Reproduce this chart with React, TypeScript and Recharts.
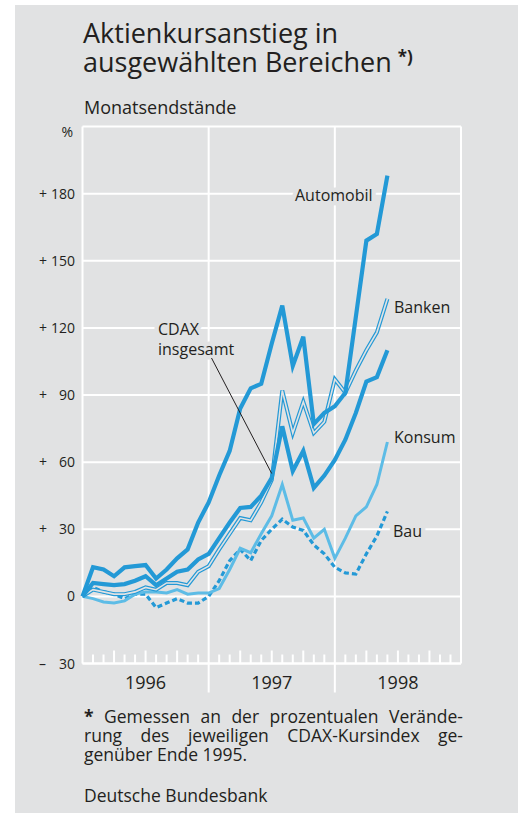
import React from "react";
import { CartesianGrid, Line, LineChart, ReferenceLine, XAxis, YAxis } from "recharts";

// Monatsendstände, Veränderung gegenüber Ende 1995 in %
const months = [
  "Dez 95",
  "Jan 96", "Feb 96", "Mär 96", "Apr 96", "Mai 96", "Jun 96",
  "Jul 96", "Aug 96", "Sep 96", "Okt 96", "Nov 96", "Dez 96",
  "Jan 97", "Feb 97", "Mär 97", "Apr 97", "Mai 97", "Jun 97",
  "Jul 97", "Aug 97", "Sep 97", "Okt 97", "Nov 97", "Dez 97",
  "Jan 98", "Feb 98", "Mär 98", "Apr 98", "Mai 98",
];
const automobil = [0, 13, 12, 9, 13, 13.5, 14, 8, 12, 17, 21, 33, 42, 54, 65, 84, 93, 95, 113, 130, 103, 116, 77, 82, 85, 91, 125, 159, 162, 188];
const banken = [0, 3, 2, 1, 1, 2, 4, 3, 6, 6, 5, 11, 13.5, 21, 28, 35, 34, 42, 52, 92, 73, 87, 73, 78, 97, 91, 101, 110, 118, 133];
const cdax = [0, 6, 5.5, 5, 5.5, 7, 9, 5, 8, 11, 12, 16.5, 19, 26, 33, 39.5, 40, 45, 53, 76, 56, 65, 48.5, 54, 61, 70, 82, 96, 98, 110];
const konsum = [0, -1, -2.5, -3, -2, 1, 2, 2, 1.5, 3, 1, 1.5, 1.5, 3.5, 12, 21.5, 19.5, 28, 36, 50, 34, 35, 26, 30, 17, 26, 36, 40, 50, 69];
const bau = [0, 4, 2, 1, -1, 1, 1, -5, -3, -1, -3, -3, 0, 7, 16, 21, 16, 25, 30, 34.5, 31, 29.5, 23, 19, 13, 10.5, 10, 19, 27, 38];

const yTicks = [-30, 0, 30, 60, 90, 120, 150, 180, 210];
const years = ["1996", "1997", "1998"];
const monthTicks = Array.from({ length: 37 }, (_, i) => i);

const BG = "#e1e2e3";
const BLUE = "#2399d6";
const LIGHT = "#5dbce6";
const INK = "#231f20";
const FONT = "'Open Sans', sans-serif";

const rows = months.map((label, i) => ({
  m: i,
  label,
  automobil: automobil[i],
  banken: banken[i],
  cdax: cdax[i],
  konsum: konsum[i],
  bau: bau[i],
}));

function MonthTick(props: any) {
  const { x, y, payload } = props;
  const m = payload.value as number;
  if (m === 0 || m === 36) return null;
  if (m % 12 === 0) {
    return <line x1={x} x2={x} y1={y} y2={y + 29} stroke="#fff" strokeWidth={2} />;
  }
  const h = m % 3 === 0 ? 13 : 9;
  return (
    <g>
      <line x1={x} x2={x} y1={y} y2={y - h} stroke="#fff" strokeWidth={2} />
      {m % 12 === 6 && (
        <text x={x} y={y + 25.5} textAnchor="middle" fontSize={18} fill={INK} fontFamily={FONT}>
          {years[(m - 6) / 12]}
        </text>
      )}
    </g>
  );
}

function PctTick(props: any) {
  const { y, payload } = props;
  const v = payload.value as number;
  const style = { fontSize: 14, fill: INK, fontFamily: FONT };
  if (v === 210) {
    return (
      <text x={73} y={y + 10} textAnchor="end" {...style}>
        %
      </text>
    );
  }
  return (
    <g>
      {v !== 0 && (
        <text x={39} y={y} dy="0.36em" {...style}>
          {v > 0 ? "+" : "–"}
        </text>
      )}
      <text x={75} y={y} dy="0.36em" textAnchor="end" {...style}>
        {Math.abs(v)}
      </text>
    </g>
  );
}

const labelStyle = {
  fontSize: 16,
  fill: INK,
  fontFamily: FONT,
  stroke: BG,
  strokeWidth: 9,
  paintOrder: "stroke" as const,
  strokeLinejoin: "round" as const,
};

export default function App() {
  return (
    <div
      style={{
        position: "absolute",
        left: 0,
        top: 0,
        width: 518,
        height: 813,
        background: "#fff",
        overflow: "hidden",
        fontFamily: FONT,
        color: INK,
      }}
    >
      <div style={{ position: "absolute", left: 15, top: 5, right: 0, bottom: 0, background: BG }} />

      <div style={{ position: "absolute", left: 0, top: 0 }}>
        <LineChart
          width={518}
          height={720}
          data={rows}
          margin={{ top: 126.5, right: 57, bottom: 16.5, left: 22.5 }}
        >
          <CartesianGrid stroke="#fff" strokeWidth={2} vertical={false} />
          <XAxis
            dataKey="m"
            type="number"
            domain={[0, 36]}
            ticks={monthTicks}
            interval={0}
            tickLine={false}
            tickSize={0}
            tickMargin={0}
            height={40}
            axisLine={{ stroke: "#fff", strokeWidth: 2 }}
            tick={<MonthTick />}
          />
          <YAxis
            type="number"
            domain={[-30, 210]}
            ticks={yTicks}
            interval={0}
            width={60}
            axisLine={false}
            tickLine={false}
            tick={<PctTick />}
          />
          <ReferenceLine x={0} stroke="#fff" strokeWidth={2} />
          <ReferenceLine x={12} stroke="#fff" strokeWidth={2} />
          <ReferenceLine x={24} stroke="#fff" strokeWidth={2} />
          <ReferenceLine x={36} stroke="#fff" strokeWidth={2} />

          <Line dataKey="bau" stroke={BLUE} strokeWidth={3.2} strokeDasharray="5 3" dot={false} isAnimationActive={false} />
          <Line dataKey="konsum" stroke={LIGHT} strokeWidth={3} dot={false} isAnimationActive={false} />
          <Line dataKey="banken" stroke={BLUE} strokeWidth={4} dot={false} isAnimationActive={false} />
          <Line dataKey="banken" stroke={BG} strokeWidth={1.6} dot={false} isAnimationActive={false} />
          <Line dataKey="cdax" stroke={BLUE} strokeWidth={4.2} dot={false} isAnimationActive={false} />
          <Line dataKey="automobil" stroke={BLUE} strokeWidth={4.2} dot={false} isAnimationActive={false} />
        </LineChart>
      </div>

      <svg
        width={518}
        height={813}
        style={{ position: "absolute", left: 0, top: 0, pointerEvents: "none" }}
      >
        <text x={83} y={43} fontSize={27} fill={INK} fontFamily={FONT}>
          Aktienkursanstieg in
        </text>
        <text x={83} y={72} fontSize={27} fill={INK} fontFamily={FONT}>
          ausgewählten Bereichen
          <tspan fontSize={17} fontWeight={700} dx={6} dy={-9}>
            *)
          </tspan>
        </text>
        <text x={84} y={114} fontSize={18} fill={INK} fontFamily={FONT}>
          Monatsendstände
        </text>

        <text x={295} y={200.5} {...labelStyle}>Automobil</text>
        <text x={394} y={313} {...labelStyle}>Banken</text>
        <text x={158} y={335} {...labelStyle}>CDAX</text>
        <text x={158} y={355} {...labelStyle}>insgesamt</text>
        <text x={394} y={442.5} {...labelStyle}>Konsum</text>
        <text x={393} y={536.5} {...labelStyle}>Bau</text>
        <line x1={211.5} y1={358} x2={271.7} y2={473.5} stroke={INK} strokeWidth={1} />

        <text x={84} y={801.5} fontSize={17.5} fill={INK} fontFamily={FONT}>
          Deutsche Bundesbank
        </text>
      </svg>

      <div
        style={{
          position: "absolute",
          left: 84,
          top: 706.7,
          width: 379,
          fontSize: 17.5,
          lineHeight: "19px",
        }}
      >
        <div style={{ textAlign: "justify", textAlignLast: "justify" }}>
          <b>*</b> Gemessen an der prozentualen Verände-
        </div>
        <div style={{ textAlign: "justify", textAlignLast: "justify" }}>
          rung des jeweiligen CDAX-Kursindex ge-
        </div>
        <div>genüber Ende 1995.</div>
      </div>
    </div>
  );
}
